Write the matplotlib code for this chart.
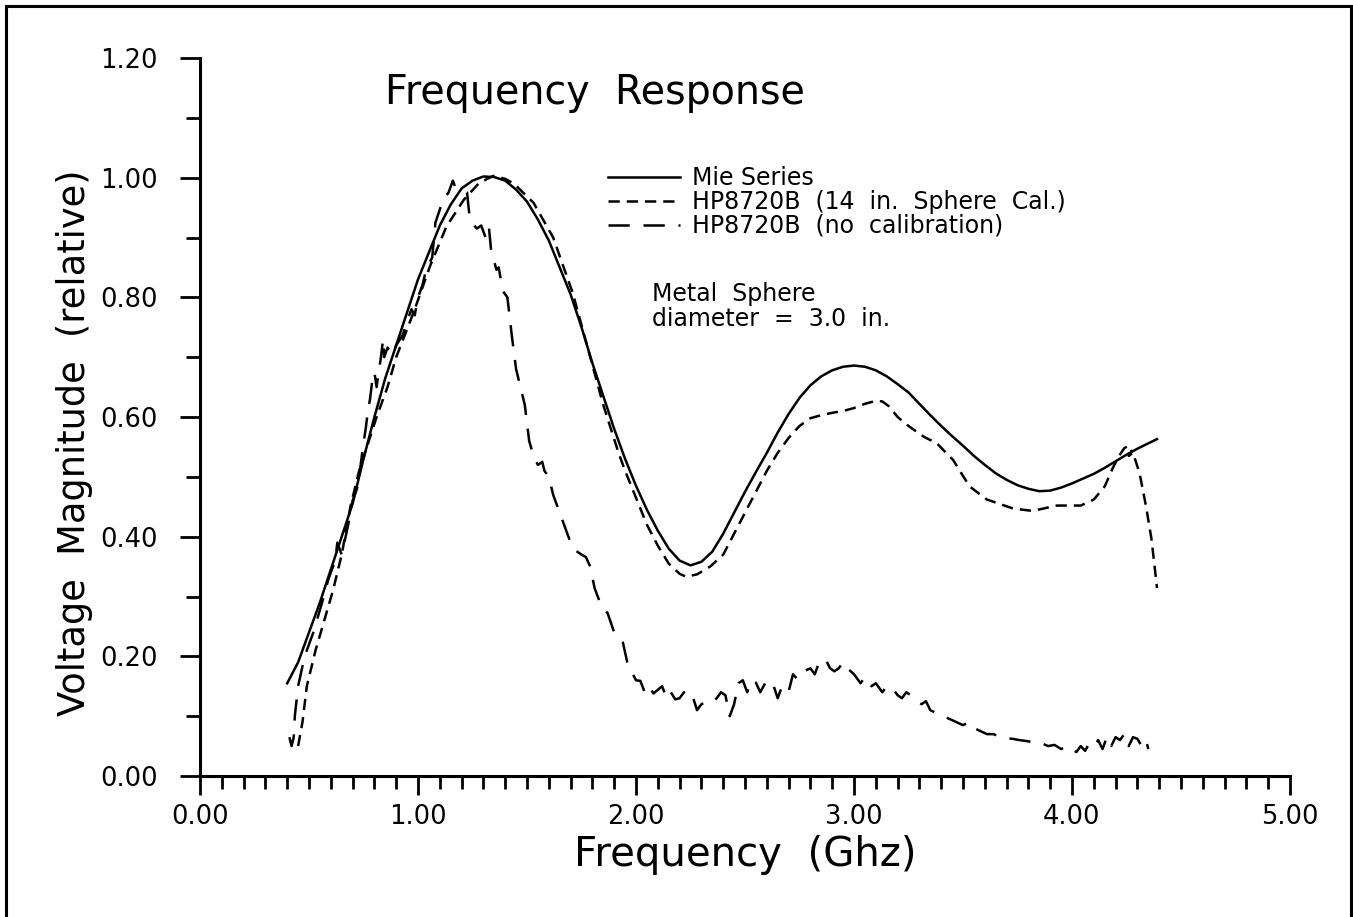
import matplotlib
matplotlib.use('Agg')
import matplotlib.pyplot as plt
from matplotlib.ticker import MultipleLocator, FormatStrFormatter
from matplotlib.patches import Rectangle

plt.rcParams['font.family'] = ['DejaVu Sans']

# ── Mie series (theory) ───────────────────────────────
mie_f = [0.40, 0.45, 0.50, 0.55, 0.60, 0.65, 0.70, 0.75, 0.80, 0.85, 0.90, 0.95,
         1.00, 1.05, 1.10, 1.15, 1.20, 1.25, 1.30, 1.35, 1.40, 1.45, 1.50, 1.55,
         1.60, 1.65, 1.70, 1.75, 1.80, 1.85, 1.90, 1.95, 2.00, 2.05, 2.10, 2.15,
         2.20, 2.25, 2.30, 2.35, 2.40, 2.45, 2.50, 2.55, 2.60, 2.65, 2.70, 2.75,
         2.80, 2.85, 2.90, 2.95, 3.00, 3.05, 3.10, 3.15, 3.20, 3.25, 3.30, 3.35,
         3.40, 3.45, 3.50, 3.55, 3.60, 3.65, 3.70, 3.75, 3.80, 3.85, 3.90, 3.95,
         4.00, 4.05, 4.10, 4.15, 4.20, 4.25, 4.30, 4.35, 4.39]
mie_v = [0.155, 0.19, 0.24, 0.29, 0.345, 0.40, 0.455, 0.53, 0.60, 0.665, 0.72, 0.775,
         0.83, 0.875, 0.92, 0.955, 0.982, 0.995, 1.002, 1.001, 0.995, 0.98, 0.96, 0.93,
         0.895, 0.85, 0.805, 0.75, 0.69, 0.635, 0.58, 0.53, 0.485, 0.445, 0.41, 0.38,
         0.36, 0.352, 0.358, 0.375, 0.405, 0.44, 0.475, 0.508, 0.54, 0.574, 0.605, 0.632,
         0.653, 0.668, 0.678, 0.684, 0.686, 0.684, 0.678, 0.668, 0.655, 0.641, 0.622, 0.603,
         0.585, 0.568, 0.552, 0.535, 0.52, 0.506, 0.495, 0.486, 0.48, 0.476, 0.477, 0.482,
         0.489, 0.497, 0.505, 0.515, 0.526, 0.537, 0.547, 0.556, 0.563]

# ── HP8720B with 14 in. sphere calibration ────────────
cal_f = [0.45, 0.47, 0.49, 0.53, 0.57, 0.61, 0.65, 0.69, 0.73, 0.77, 0.81, 0.86,
         0.90, 0.98, 1.055, 1.13, 1.21, 1.28, 1.345, 1.40, 1.44, 1.53, 1.62, 1.71,
         1.79, 1.85, 1.92, 1.95, 2.00, 2.05, 2.10, 2.15, 2.20, 2.23, 2.28, 2.34,
         2.40, 2.45, 2.50, 2.55, 2.60, 2.65, 2.70, 2.75, 2.80, 2.85, 2.90, 2.95,
         3.00, 3.05, 3.10, 3.13, 3.16, 3.20, 3.25, 3.32, 3.38, 3.455, 3.53, 3.61,
         3.73, 3.82, 3.93, 4.04, 4.10, 4.15, 4.19, 4.22, 4.24, 4.26, 4.275, 4.26,
         4.28, 4.31, 4.34, 4.365, 4.39]
cal_v = [0.05, 0.09, 0.15, 0.21, 0.26, 0.31, 0.37, 0.45, 0.51, 0.555, 0.60, 0.65,
         0.70, 0.775, 0.852, 0.918, 0.963, 0.991, 1.003, 0.998, 0.99, 0.958, 0.90, 0.807,
         0.70, 0.62, 0.54, 0.51, 0.465, 0.42, 0.385, 0.355, 0.338, 0.333, 0.337, 0.35,
         0.37, 0.405, 0.44, 0.475, 0.51, 0.54, 0.565, 0.585, 0.598, 0.603, 0.607, 0.61,
         0.615, 0.622, 0.627, 0.626, 0.618, 0.60, 0.585, 0.567, 0.556, 0.528, 0.484, 0.462,
         0.447, 0.443, 0.452, 0.452, 0.462, 0.484, 0.517, 0.537, 0.548, 0.552, 0.542,
         0.535, 0.54, 0.506, 0.45, 0.395, 0.314]

# ── HP8720B without calibration ───────────────────────
raw_f = [0.41, 0.42, 0.43, 0.435, 0.45, 0.48, 0.52, 0.56, 0.59, 0.62, 0.63, 0.65,
         0.68, 0.70, 0.72, 0.73, 0.75, 0.76, 0.77, 0.78, 0.79, 0.80, 0.81, 0.83,
         0.84, 0.845, 0.86, 0.885, 0.90, 0.93, 0.95, 0.97, 0.985, 1.00, 1.02, 1.04,
         1.065, 1.08, 1.115, 1.14, 1.16, 1.17, 1.20, 1.225, 1.235, 1.245, 1.27, 1.29,
         1.31, 1.325, 1.335, 1.35, 1.36, 1.37, 1.39, 1.41, 1.43, 1.45, 1.47, 1.49,
         1.51, 1.53, 1.55, 1.57, 1.58, 1.60, 1.62, 1.65, 1.67, 1.69, 1.71, 1.73,
         1.75, 1.77, 1.79, 1.81, 1.84, 1.87, 1.90, 1.94, 1.96, 1.98, 2.00, 2.02,
         2.04, 2.06, 2.08, 2.10, 2.12, 2.14, 2.16, 2.18, 2.20, 2.22, 2.24, 2.26,
         2.28, 2.30, 2.33, 2.35, 2.37, 2.39, 2.41, 2.43, 2.45, 2.47, 2.49, 2.51,
         2.53, 2.55, 2.57, 2.60, 2.63, 2.65, 2.67, 2.70, 2.72, 2.74, 2.77, 2.80,
         2.82, 2.84, 2.87, 2.89, 2.91, 2.93, 2.95, 2.97, 3.00, 3.03, 3.05, 3.08,
         3.10, 3.13, 3.15, 3.18, 3.20, 3.22, 3.24, 3.26, 3.29, 3.31, 3.33, 3.35,
         3.38, 3.41, 3.44, 3.47, 3.50, 3.53, 3.55, 3.58, 3.61, 3.64, 3.67, 3.70,
         3.73, 3.76, 3.80, 3.83, 3.86, 3.89, 3.92, 3.95, 3.98, 4.00, 4.02, 4.04,
         4.06, 4.08, 4.10, 4.12, 4.14, 4.16, 4.18, 4.20, 4.22, 4.24, 4.26, 4.28,
         4.30, 4.32, 4.34, 4.35]
raw_v = [0.065, 0.05, 0.065, 0.10, 0.15, 0.20, 0.24, 0.29, 0.33, 0.36, 0.39, 0.37,
         0.42, 0.46, 0.48, 0.50, 0.557, 0.58, 0.61, 0.63, 0.66, 0.675, 0.65, 0.70,
         0.73, 0.70, 0.716, 0.704, 0.72, 0.737, 0.76, 0.78, 0.77, 0.80, 0.82, 0.85,
         0.866, 0.925, 0.963, 0.975, 0.995, 0.985, 0.98, 0.975, 0.94, 0.925, 0.915, 0.92,
         0.90, 0.918, 0.88, 0.86, 0.846, 0.85, 0.81, 0.80, 0.737, 0.68, 0.65, 0.62,
         0.56, 0.535, 0.52, 0.525, 0.51, 0.50, 0.47, 0.44, 0.42, 0.40, 0.381, 0.375,
         0.37, 0.366, 0.35, 0.314, 0.285, 0.272, 0.24, 0.223, 0.19, 0.174, 0.16, 0.159,
         0.14, 0.15, 0.138, 0.144, 0.15, 0.13, 0.14, 0.128, 0.13, 0.14, 0.13, 0.133,
         0.11, 0.12, 0.125, 0.123, 0.13, 0.14, 0.135, 0.10, 0.12, 0.155, 0.16, 0.14,
         0.16, 0.156, 0.14, 0.16, 0.152, 0.13, 0.15, 0.141, 0.17, 0.162, 0.175, 0.18,
         0.17, 0.19, 0.195, 0.18, 0.175, 0.18, 0.19, 0.18, 0.17, 0.155, 0.165, 0.15,
         0.155, 0.14, 0.15, 0.145, 0.135, 0.13, 0.14, 0.135, 0.125, 0.12, 0.125, 0.11,
         0.105, 0.10, 0.095, 0.09, 0.085, 0.09, 0.08, 0.075, 0.07, 0.07, 0.065, 0.063,
         0.062, 0.06, 0.058, 0.055, 0.055, 0.05, 0.052, 0.045, 0.05, 0.045, 0.04, 0.05,
         0.042, 0.055, 0.05, 0.06, 0.045, 0.065, 0.05, 0.065, 0.06, 0.07, 0.05, 0.065,
         0.062, 0.05, 0.06, 0.045]

W, H = 1353, 917
fig = plt.figure(figsize=(W / 100, H / 100), dpi=100)
ax = fig.add_axes([200 / W, 1 - 776 / H, 1090 / W, 718 / H])

lw = 1.8
ax.plot(mie_f, mie_v, color='black', lw=lw, label='Mie Series')
ax.plot(cal_f, cal_v, color='black', lw=lw, dashes=(4.5, 2.8),
        label='HP8720B  (14  in.  Sphere  Cal.)')
ax.plot(raw_f, raw_v, color='black', lw=lw, dashes=(8.5, 5.5),
        label='HP8720B  (no  calibration)')

ax.set_xlim(0, 5)
ax.set_ylim(0, 1.2)
for s in ('top', 'right'):
    ax.spines[s].set_visible(False)
for s in ('left', 'bottom'):
    ax.spines[s].set_linewidth(2.2)

ax.xaxis.set_major_locator(MultipleLocator(1.0))
ax.xaxis.set_minor_locator(MultipleLocator(0.1))
ax.yaxis.set_major_locator(MultipleLocator(0.2))
ax.yaxis.set_minor_locator(MultipleLocator(0.1))
ax.xaxis.set_major_formatter(FormatStrFormatter('%.2f'))
ax.yaxis.set_major_formatter(FormatStrFormatter('%.2f'))
ax.tick_params(axis='x', which='major', direction='out', length=14, width=2.0,
               labelsize=18.5, pad=6)
ax.tick_params(axis='x', which='minor', direction='out', length=9, width=2.0)
ax.tick_params(axis='y', which='major', direction='out', length=14.5, width=2.0,
               labelsize=18.5, pad=16)
ax.tick_params(axis='y', which='minor', direction='out', length=10, width=2.0)

ax.set_xlabel('Frequency  (Ghz)', fontsize=29)
ax.xaxis.label.set_va('baseline')
ax.xaxis.set_label_coords(0.5, -0.126)
ax.set_ylabel('Voltage  Magnitude  (relative)', fontsize=26.5)
ax.yaxis.label.set_va('center')
ax.yaxis.set_label_coords(-0.1147, 0.464)

ax.text(0.85, 1.142, 'Frequency  Response', fontsize=28.5, ha='left', va='center')
ax.text(2.075, 0.785, 'Metal  Sphere\ndiameter  =  3.0  in.', fontsize=17,
        ha='left', va='center', linespacing=1.07)

leg = ax.legend(loc='upper left', bbox_to_anchor=((608 - 200) / 1090, (776 - 166) / 718),
                frameon=False, fontsize=17, handlelength=3.05, handletextpad=0.5,
                labelspacing=0.0, borderpad=0, borderaxespad=0)

fig.add_artist(Rectangle((6 / W, -0.02), 1345 / W, 1 - 6 / H + 0.02,
                         transform=fig.transFigure, fill=False,
                         edgecolor='black', lw=2.2))

fig.savefig('out.png', dpi=100)
